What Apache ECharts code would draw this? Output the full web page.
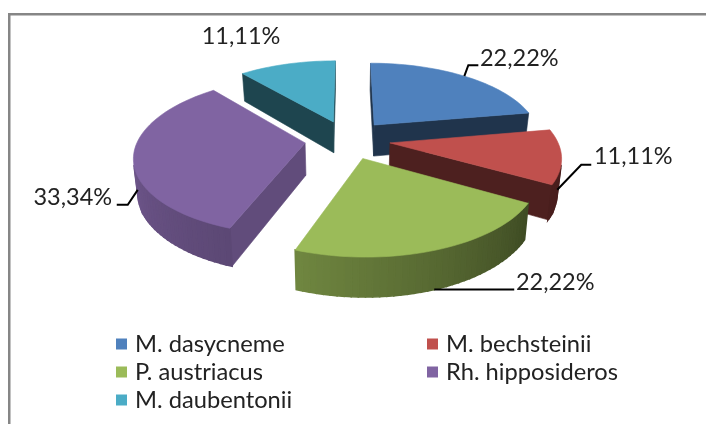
<!DOCTYPE html>
<html>
<head>
<meta charset="utf-8">
<style>html,body{margin:0;padding:0;background:#fff}#c{width:706px;height:424px}</style>
<script src="https://cdn.jsdelivr.net/npm/echarts@6/dist/echarts.min.js"></script>
</head>
<body>
<div id="c"></div>
<script>
const categories = ['M. dasycneme', 'M. bechsteinii', 'P. austriacus', 'Rh. hipposideros', 'M. daubentonii'];
const values = [22.22, 11.11, 22.22, 33.34, 11.11];
const valueLabels = ['22,22%', '11,11%', '22,22%', '33,34%', '11,11%'];
const colors = ['#4f81bd', '#c0504d', '#9bbb59', '#8064a2', '#4bacc6'];
const paintOrder = [4, 0, 3, 1, 2];

/* perspective view of the exploded pie */
const view = { cx: 347.5, cy: 139.5, r: 167, tilt: 0.455, persp: 0.16, explode: 0.256, depth: 32, shrink: 0.98 };
/* label layout: leader bend and end relative to the rim anchor, label centre relative to the leader end */
const labelLayout = [
  { leader: [[4, -11], [14, -11]], text: [41, -7] },
  { leader: [[24, -25], [34, -25]], text: [42, -8] },
  { leader: [[80, 0]], text: [41, -7] },
  { leader: [[-10, 15], [-21, 15]], text: [-44, -7] },
  { fixed: [241, 36] }
];
const total = values.reduce((a, b) => a + b, 0);
const rad = d => d * Math.PI / 180;
const angles = [];
values.reduce((acc, v) => { angles.push([acc, acc + v / total * 360]); return acc + v / total * 360; }, 0);

function project(px, py, bottom) {
  const s = 1 / (1 - view.persp * py);
  let X = view.r * px * s, Y = view.r * view.tilt * py * s;
  if (bottom) { X *= view.shrink; Y += view.depth * s; }
  return [view.cx + X, view.cy + Y];
}
function point(i, deg, radius, bottom) {
  const mid = rad((angles[i][0] + angles[i][1]) / 2);
  const x = view.explode * Math.sin(mid) + radius * Math.sin(rad(deg));
  const y = -view.explode * Math.cos(mid) - radius * Math.cos(rad(deg));
  return project(x, y, bottom);
}
function area(p) {
  let a = 0;
  p.forEach((q, i) => { const n = p[(i + 1) % p.length]; a += q[0] * n[1] - n[0] * q[1]; });
  return a;
}
function shade(hex, f) {
  const n = parseInt(hex.slice(1), 16);
  const c = [n >> 16, (n >> 8) & 255, n & 255].map(v => Math.round(v * (1 - f)));
  return 'rgb(' + c.join(',') + ')';
}
function wallShade(deg) {
  if (deg >= 270) return 0.12;
  if (deg >= 200) return 0.12 + (270 - deg) * 0.0023;
  if (deg >= 120) return 0.28 + (200 - deg) * 0.004;
  return 0.62;
}
function sliceItem(i) {
  const [a0, a1] = angles[i];
  const col = colors[i];
  const kids = [];
  const poly = (pts, fill, seam) => kids.push({
    type: 'polygon', shape: { points: pts },
    style: { fill: fill, stroke: fill, lineWidth: seam || 0.6 }, silent: true
  });
  const cutStart = [point(i, a0, 1), point(i, a0, 0), point(i, a0, 0, true), point(i, a0, 1, true)];
  const cutEnd = [point(i, a1, 0), point(i, a1, 1), point(i, a1, 1, true), point(i, a1, 0, true)];
  if (area(cutStart) > 0) poly(cutStart, shade(col, (a0 - 90 + 360) % 360 < 150 ? 0.24 : 0.6));
  if (area(cutEnd) > 0) poly(cutEnd, shade(col, 0.6));
  const steps = Math.max(8, Math.round((a1 - a0) / 2));
  const rim = [];
  for (let k = 0; k <= steps; k++) {
    const t = a0 + (a1 - a0) * k / steps;
    rim.push(point(i, t, 1));
    if (k < steps) {
      const t2 = a0 + (a1 - a0) * (k + 1) / steps;
      const q = [point(i, t, 1), point(i, t2, 1), point(i, t2, 1, true), point(i, t, 1, true)];
      if (area(q) < 0) poly(q, shade(col, wallShade((t + t2) / 2)), 1.6);
    }
  }
  poly(rim.concat([point(i, a0, 0)]), col);
  /* leader and label */
  const lay = labelLayout[i];
  const mid = (a0 + a1) / 2;
  let c;
  if (lay.fixed) {
    c = lay.fixed;
  } else {
    const back = Math.cos(rad(mid)) > 0;
    const anchor = point(i, mid, 1, !back);
    const pts = [anchor].concat(lay.leader.map(o => [anchor[0] + o[0], anchor[1] + o[1]]));
    kids.push({ type: 'polyline', shape: { points: pts }, style: { stroke: '#000', lineWidth: 2, fill: 'none' }, silent: true });
    const e = pts[pts.length - 1];
    c = [e[0] + lay.text[0], e[1] + lay.text[1]];
  }
  kids.push({
    type: 'text', x: c[0], y: c[1], silent: true,
    style: { text: valueLabels[i], fill: '#222', font: '23.5px Lato', textAlign: 'center', textVerticalAlign: 'middle' }
  });
  return { type: 'group', children: kids };
}

const series = categories.map((name, i) => ({
  type: 'custom', name, coordinateSystem: 'none', z: 2 + paintOrder.indexOf(i),
  animation: false, silent: true,
  itemStyle: { color: colors[i] },
  data: [values[i]],
  renderItem: () => sliceItem(i)
}));
const legendItem = i => ({ name: categories[i], icon: 'rect', itemStyle: { color: colors[i] } });
const legendBase = {
  orient: 'vertical', itemWidth: 11, itemHeight: 11, itemGap: 4, padding: 0,
  selectedMode: false, textStyle: { fontFamily: 'Lato', fontSize: 23.7, color: '#222', padding: [0, 0, 0, 3] }
};
const chart = echarts.init(document.getElementById('c'), null, { renderer: 'canvas' });
chart.setOption({
  backgroundColor: '#fff',
  animation: false,
  legend: [
    Object.assign({}, legendBase, { left: 116, top: 332, data: [0, 2, 4].map(legendItem) }),
    Object.assign({}, legendBase, { left: 427, top: 332, data: [1, 3].map(legendItem) })
  ],
  graphic: [
    { type: 'rect', shape: { x: 8, y: 13, width: 698, height: 2.5 }, style: { fill: '#868686' }, silent: true },
    { type: 'rect', shape: { x: 8, y: 13, width: 2.5, height: 411 }, style: { fill: '#868686' }, silent: true }
  ],
  series
});
</script>
</body>
</html>
